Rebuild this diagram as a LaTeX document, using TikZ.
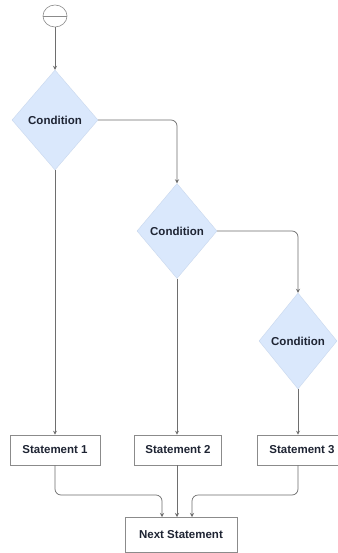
\documentclass[tikz,border=0pt]{standalone}
\usepackage{fontspec}
\setmainfont{Liberation Sans}
\usetikzlibrary{shapes.geometric,arrows.meta}
\definecolor{decfill}{HTML}{DAE8FC}
\definecolor{decline}{HTML}{C9D8EE}
\definecolor{wire}{HTML}{6E6E6E}
\definecolor{ink}{HTML}{1E2433}
\tikzset{
  lbl/.style={font=\fontsize{11.5}{13}\selectfont\bfseries, text=ink},
  decision/.style={diamond, draw=decline, fill=decfill, inner sep=0pt, lbl},
  stmt/.style={rectangle, draw=wire!80, fill=white, line width=0.6pt, minimum height=30, inner sep=0pt, lbl},
  flow/.style={draw=wire, line width=0.7pt, -{Stealth[length=4pt,width=4pt]}, rounded corners=6pt},
}
\begin{document}
\begin{tikzpicture}[x=1pt,y=-1pt]
\useasboundingbox (0,0) rectangle (337,553);
\fill[white] (0,0) rectangle (337,553);

% start symbol
\node[ellipse, draw=wire!80, line width=0.6pt, minimum width=24, minimum height=22, inner sep=0pt] (start) at (55,16) {};
\draw[wire!80, line width=0.6pt] (start.west) -- (start.east);

% decisions
\node[decision, minimum width=86, minimum height=100] (d1) at (55,120) {Condition};
\node[decision, minimum width=80, minimum height=95] (d2) at (177,231) {Condition};
\node[decision, minimum width=78, minimum height=96] (d3) at (298,341) {Condition};

% statements
\node[stmt, minimum width=90] (s1) at (55,450) {Statement 1};
\node[stmt, minimum width=87] (s2) at (178,450) {Statement 2};
\node[stmt, minimum width=90] (s3) at (302,450) {Statement 3};
\node[stmt, minimum width=112, minimum height=35] (next) at (181,535) {Next Statement};

\coordinate (inL) at (162,517);
\coordinate (inM) at (177,517);
\coordinate (inR) at (192,517);

% connectors
\draw[flow] (start.south) -- (d1.north);
\draw[flow] (d1.east) -| (d2.north);
\draw[flow] (d2.east) -| (d3.north);
\draw[flow] (d1.south) -- (s1.north);
\draw[flow] (d2.south) -- (s2.north -| d2.south);
\draw[flow] (d3.south) -- (s3.north -| d3.south);
\draw[flow] (s1.south) |- (130,495) -| (inL);
\draw[flow] (s2.south -| d2.south) -- (inM);
\draw[flow] (s3.south -| d3.south) |- (230,495) -| (inR);
\end{tikzpicture}
\end{document}
